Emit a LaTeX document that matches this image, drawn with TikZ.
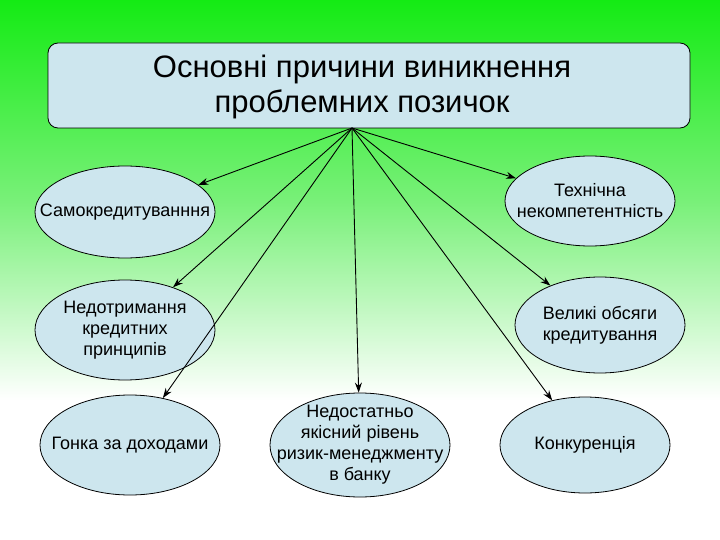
\documentclass[tikz,border=0pt]{standalone}
\usepackage{fontspec}
\setmainfont{Liberation Sans}
\usetikzlibrary{shapes.geometric,arrows.meta}
\definecolor{boxblue}{RGB}{205,230,238}
\definecolor{topgreen}{RGB}{20,235,20}
\tikzset{
 el/.style={ellipse,draw=black,line width=0.8pt,fill=boxblue,minimum width=#1,inner sep=0pt},
 txt/.style={align=center,font=\fontsize{18}{21}\selectfont,inner sep=0pt},
 arr/.style={-{Stealth[length=10pt,width=7pt]},line width=0.9pt}
}
\begin{document}
\begin{tikzpicture}[x=1pt,y=-1pt]
\useasboundingbox (0,0) rectangle (720,540);
\shade[top color=topgreen,bottom color=white,middle color={rgb,255:red,120;green,240;blue,120}] (0,0) rectangle (720,400);
\fill[white] (0,399.5) rectangle (720,540);
\node[draw=black,line width=0.8pt,fill=boxblue,rounded corners=10pt,minimum width=642pt,minimum height=85pt] (t) at (369,85.5) {};
\node[align=center,font=\fontsize{31}{35}\selectfont] (tt) at (362,87) {Основні причини виникнення\\проблемних позичок};
\coordinate (o) at (352,128);
\node[el=180pt,minimum height=92pt] (a) at (125,212) {};
\node[txt] (at) at (a) {Самокредитуванння};
\node[el=170pt,minimum height=90pt] (b) at (590,201) {};
\node[txt] (bt) at (b) {Технічна\\некомпетентність};
\node[el=180pt,minimum height=100pt] (c) at (125,330) {};
\node[txt] (ct) at (c) {Недотримання\\кредитних\\принципів};
\node[el=170pt,minimum height=96pt] (d) at (600,325) {};
\node[txt] (dt) at (d) {Великі обсяги\\кредитування};
\node[el=180pt,minimum height=100pt] (e) at (130,445) {};
\node[txt] (et) at (e) {Гонка за доходами};
\node[el=180pt,minimum height=104pt] (f) at (360,445) {};
\node[txt] (ft) at (f) {Недостатньо\\якісний рівень\\ризик-менеджменту\\в банку};
\node[el=170pt,minimum height=96pt] (g) at (585,445) {};
\node[txt] (gt) at (g) {Конкуренція};
\foreach \n in {a,b,c,d,e,f,g} \draw[arr] (o) -- (\n);
\end{tikzpicture}
\end{document}
